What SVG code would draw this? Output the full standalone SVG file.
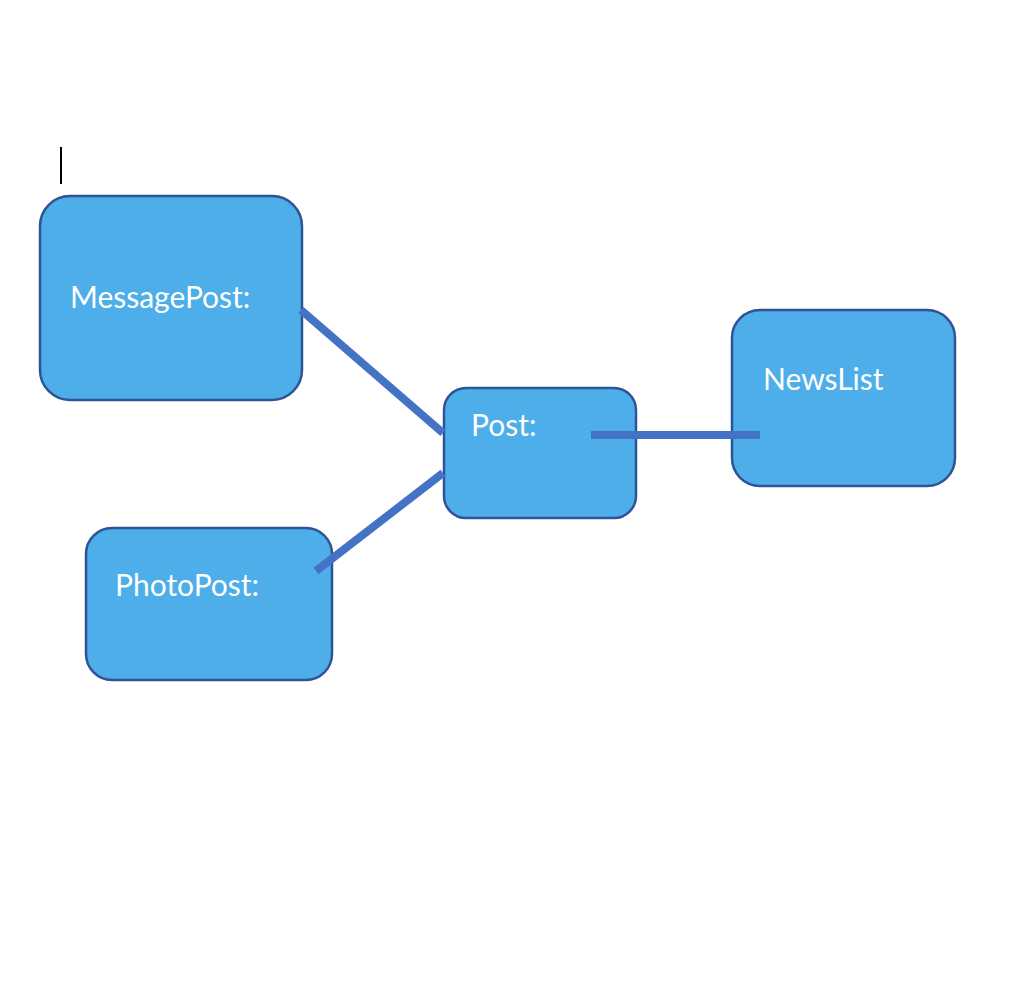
<svg xmlns="http://www.w3.org/2000/svg" width="1028" height="994" viewBox="0 0 1028 994">
<style>
.box{fill:#4eaeea;stroke:#2f5496;stroke-width:2.5}
.lbl{font-family:Lato,"Open Sans",sans-serif;font-size:30px;fill:#ffffff}
.conn{stroke:#4472c4;stroke-width:8;fill:none}
</style>
<rect width="1028" height="994" fill="#ffffff"/>
<line x1="61" y1="147" x2="61" y2="184" stroke="#000" stroke-width="2"/>
<g id="node-messagepost">
<rect class="box" x="40" y="196" width="262" height="204" rx="30"/>
<text class="lbl" x="70" y="308">MessagePost:</text>
</g>
<g id="node-post">
<rect class="box" x="444" y="388" width="192" height="130" rx="22"/>
<text class="lbl" x="471" y="436">Post:</text>
</g>
<g id="node-photopost">
<rect class="box" x="86" y="528" width="246" height="152" rx="26"/>
<text class="lbl" x="115" y="596">PhotoPost:</text>
</g>
<g id="node-newslist">
<rect class="box" x="732" y="310" width="223" height="176" rx="28"/>
<text class="lbl" x="763" y="390">NewsList</text>
</g>
<g id="connectors">
<line class="conn" x1="301" y1="310" x2="443" y2="433"/>
<line class="conn" x1="443" y1="473" x2="316" y2="571"/>
<line class="conn" x1="591" y1="435" x2="760" y2="435"/>
</g>
</svg>
